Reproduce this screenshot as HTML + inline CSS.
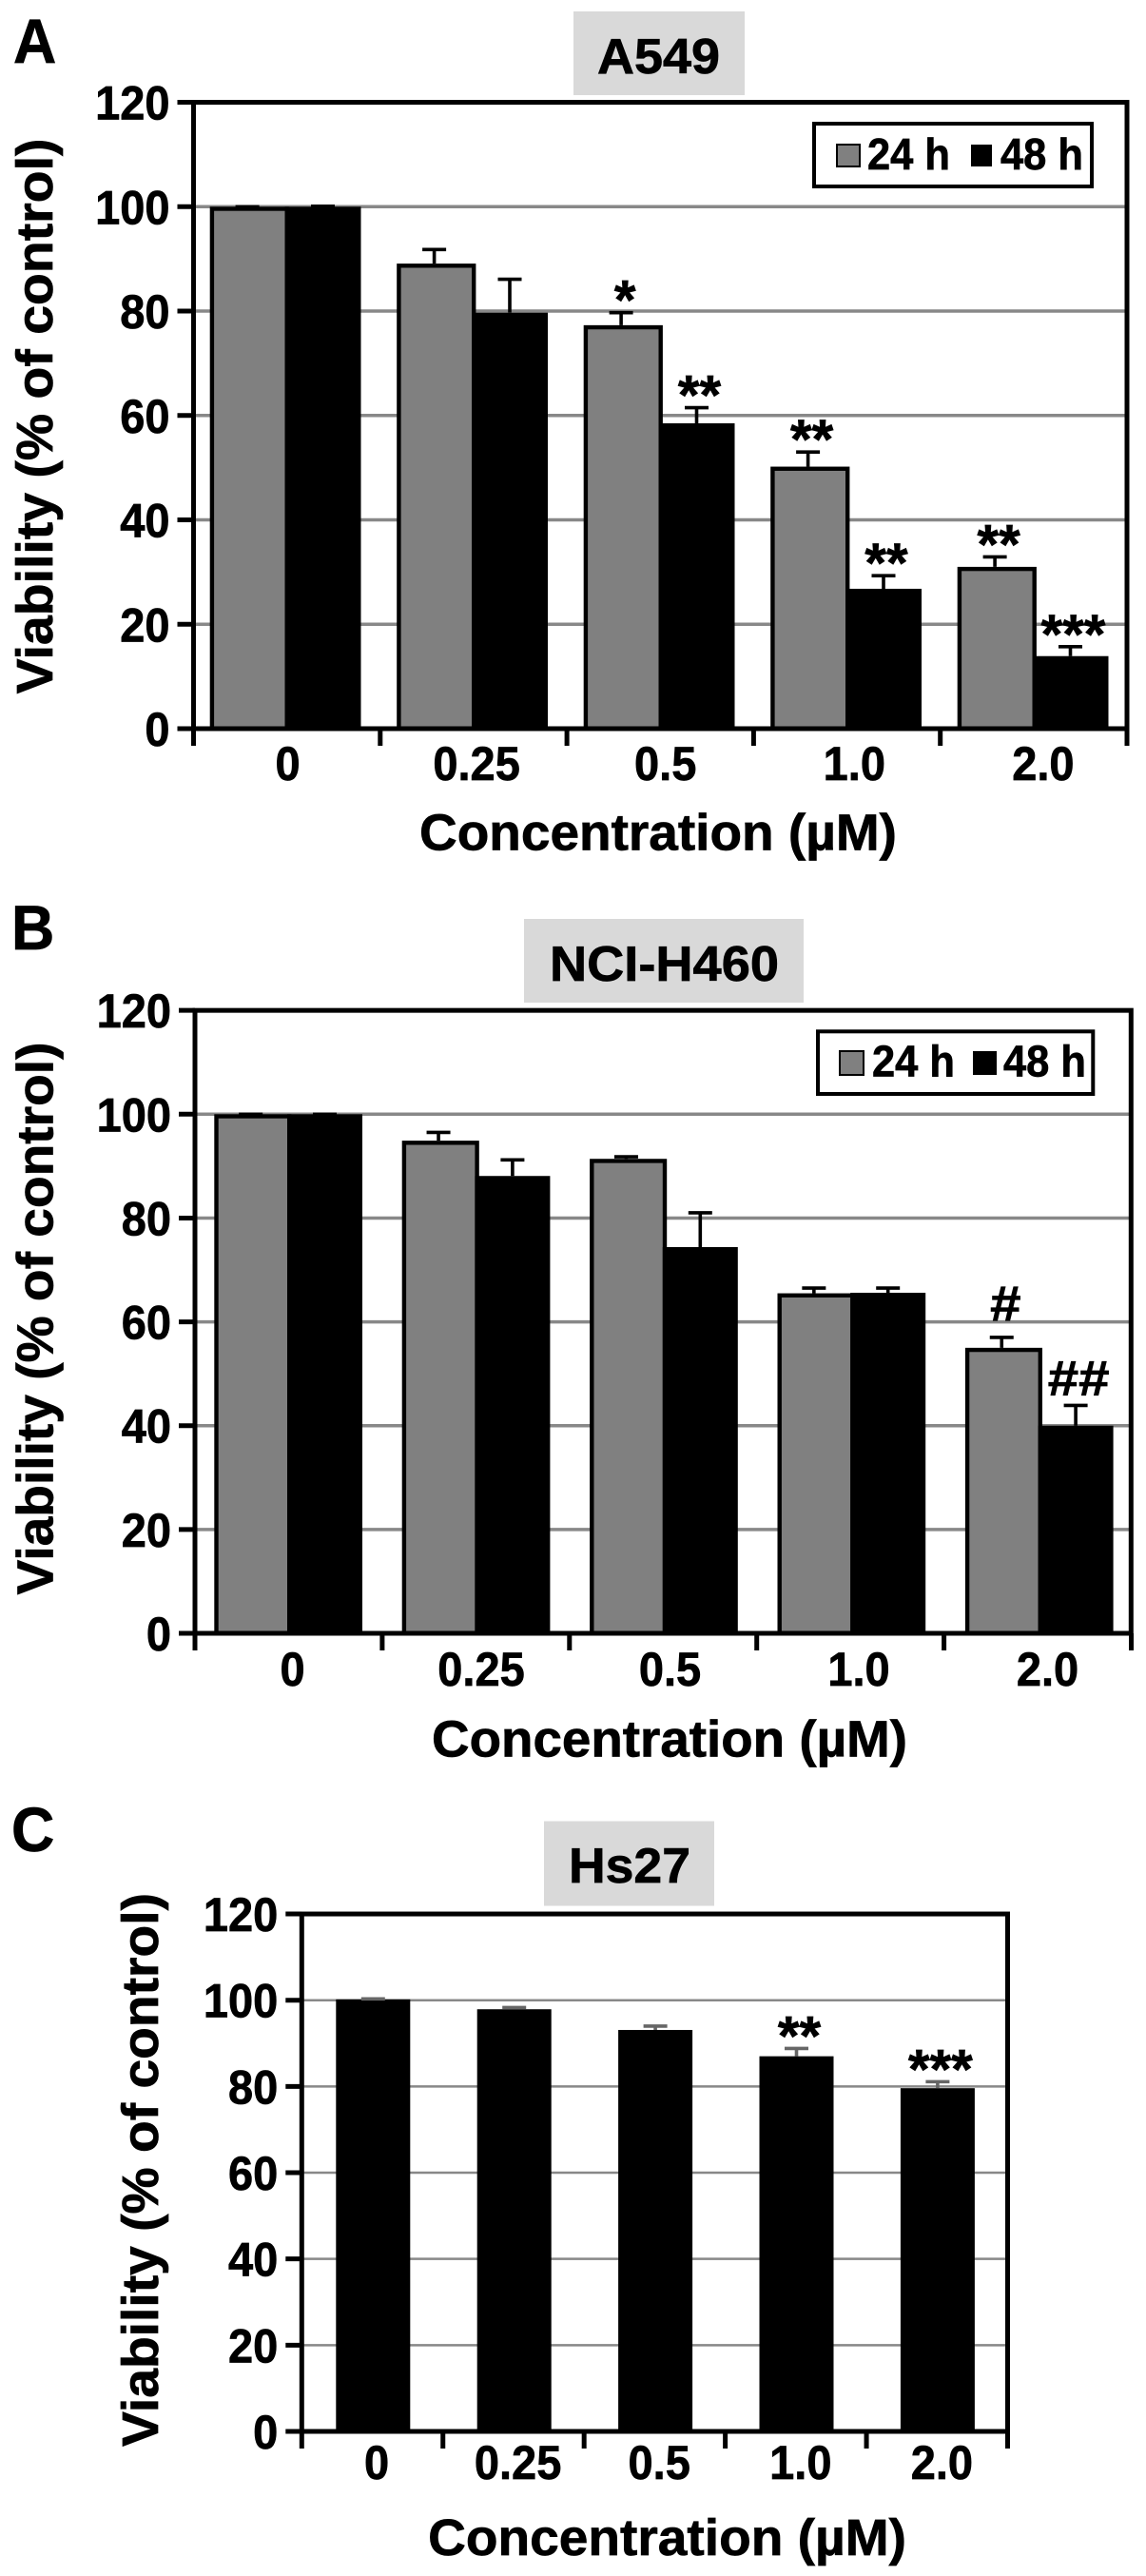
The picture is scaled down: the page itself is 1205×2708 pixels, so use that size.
<!DOCTYPE html>
<html lang="en">
<head>
<meta charset="utf-8">
<title>Cell viability charts</title>
<style>
html,body{margin:0;padding:0;background:#fff;}
svg{display:block;}
text{font-family:"Liberation Sans",Arial,sans-serif;font-weight:bold;fill:#000;stroke:#000;stroke-width:0.7px;}
</style>
</head>
<body>
<svg id="figure" xmlns="http://www.w3.org/2000/svg" width="1205" height="2708" viewBox="0 0 1205 2708"></svg>
<script>
const categories = ['0', '0.25', '0.5', '1.0', '2.0'];
const yTickLabels = [0, 20, 40, 60, 80, 100, 120];
const a549Values24 = [100, 89.1, 77.3, 50.2, 31];
const a549Values48 = [100, 79.7, 58.5, 26.8, 13.9];
const a549Errors24 = [0, 2.7, 2.4, 2.8, 1.9];
const a549Errors48 = [0.1, 6.4, 3, 2.5, 1.8];
const a549Marks24 = ['', '', '*', '**', '**'];
const a549Marks48 = ['', '', '**', '**', '***'];
const h460Values24 = [100, 94.9, 91.4, 65.5, 55];
const h460Values48 = [100, 88.1, 74.4, 65.6, 40];
const h460Errors24 = [0, 1.6, 0.4, 1, 2];
const h460Errors48 = [0, 3.1, 6.6, 0.9, 3.9];
const h460Marks24 = ['', '', '', '', '#'];
const h460Marks48 = ['', '', '', '', '##'];
const hs27Values = [100.2, 97.9, 93.1, 87, 79.6];
const hs27Errors = [0.1, 0.4, 0.9, 1.8, 1.5];
const hs27Marks = ['', '', '', '**', '***'];

const NS = 'http://www.w3.org/2000/svg';
const root = document.getElementById('figure');

function mk(parent, tag, attrs) {
  const el = document.createElementNS(NS, tag);
  for (const k in attrs) el.setAttribute(k, attrs[k]);
  parent.appendChild(el);
  return el;
}
function label(parent, str, x, y, size, anchor, sx, target, rotate) {
  const el = mk(parent, 'text', {'font-size': size, 'text-anchor': anchor});
  el.textContent = str;
  let scale = sx;
  if (target) scale = target / el.getComputedTextLength();
  el.setAttribute('transform', 'translate(' + x + ' ' + y + ')' + (rotate ? ' rotate(-90)' : '') + ' scale(' + scale + ' 1)');
  return el;
}

function drawChart(c) {
  const g = mk(root, 'g', {});
  
  
  const yScale = v => c.y0 - (c.y0 - c.y100) * v / 100;
  const xCat = i => c.left + c.step * i;

  const letter = label(g, c.letter, c.letterX, c.letterY, 66, 'start', 0.95);
  
  

  const tb = mk(g, 'rect', {x: c.titleBox[0], y: c.titleBox[1], width: c.titleBox[2], height: c.titleBox[3], fill: '#d9d9d9'});
  
  
  const tt = label(g, c.title, c.titleX, c.titleY, 52, 'middle', 1, c.titleW);
  
  

  // gridlines
  yTickLabels.forEach(v => {
    if (v === 0 || v === 120) return;
    const gl = mk(g, 'line', {x1: c.left, x2: c.right, y1: yScale(v), y2: yScale(v), stroke: '#888', 'stroke-width': c.gridW});
    
    
  });

  // bars
  categories.forEach((cat, i) => {
    const base = c.barStart + c.barStep * i;
    let x48 = base;
    if (c.values24) {
      const v = c.values24[i];
      x48 = base + c.w24;
      const bar = mk(g, 'rect', {x: base + 2.2, y: yScale(v) + 2.2, width: c.w24, height: c.y0 - yScale(v) - 2.2, fill: '#808080', stroke: '#000', 'stroke-width': 4.4});
      
      
      const cx = base + c.w24 / 2;
      const top = yScale(v + c.errors24[i]);
      const e = mk(g, 'path', {d: 'M' + (cx - 12.5) + ' ' + top + 'H' + (cx + 12.5) + 'M' + cx + ' ' + top + 'V' + yScale(v), stroke: '#000', 'stroke-width': 3.6, fill: 'none'});
      
      
      if (c.marks24[i]) {
        const m = label(g, c.marks24[i], cx + 4, top + c.gap24, c.markSize, 'middle', c.markSx);
        
        
      }
    }
    const v2 = c.values48[i];
    const bar2 = mk(g, 'rect', {x: x48, y: yScale(v2), width: c.w48, height: c.y0 - yScale(v2), fill: '#000'});
    
    
    const cx2 = x48 + c.w48 / 2;
    const top2 = yScale(v2 + c.errors48[i]);
    const e2 = mk(g, 'path', {d: 'M' + (cx2 - 12.5) + ' ' + top2 + 'H' + (cx2 + 12.5) + 'M' + cx2 + ' ' + top2 + 'V' + yScale(v2), stroke: c.errColor, 'stroke-width': 3.6, fill: 'none'});
    
    
    if (c.marks48[i]) {
      const m2 = label(g, c.marks48[i], cx2 + 3, top2 + c.gap48, c.markSize, 'middle', c.markSx);
      
      
    }
  });

  // frame
  const frame = mk(g, 'rect', {x: c.left, y: yScale(120), width: c.right - c.left, height: c.y0 - yScale(120), fill: 'none', stroke: '#000', 'stroke-width': 5});
  
  

  // y ticks
  yTickLabels.forEach(v => {
    const t = mk(g, 'line', {x1: c.left - 17, x2: c.left, y1: yScale(v), y2: yScale(v), stroke: '#000', 'stroke-width': 5});
    
    
    const l = label(g, String(v), c.left - 25, yScale(v) + 18, 50, 'end', 0.94);
    
    
  });

  // x ticks
  for (let i = 0; i <= categories.length; i++) {
    const t = mk(g, 'line', {x1: xCat(i), x2: xCat(i), y1: c.y0, y2: c.y0 + 18, stroke: '#000', 'stroke-width': 5});
    
    
  }
  categories.forEach((cat, i) => {
    const l = label(g, cat, c.labelStart + c.labelStep * i, c.y0 + c.xLabelDy, 50, 'middle', 0.94);
    
    
  });

  const xt = label(g, 'Concentration (µM)', c.xTitleX, c.xTitleY, 54, 'middle', 1, c.xTitleW);
  
  
  const yt = label(g, 'Viability (% of control)', c.yTitleX, c.yTitleY, 54, 'middle', 1, c.yTitleW, true);
  
  

  // legend
  if (c.legend) {
    const L = c.legend;
    const lg = mk(g, 'g', {});
    
    
    mk(lg, 'rect', {x: L.x, y: L.y, width: L.w, height: L.h, fill: '#fff', stroke: '#000', 'stroke-width': 4});
    const s1 = mk(lg, 'rect', {x: L.s1, y: L.sy, width: L.s1w, height: L.sh, fill: '#808080', stroke: '#000', 'stroke-width': 2});
    
    
    const s2 = mk(lg, 'rect', {x: L.s2, y: L.sy, width: L.s2w, height: L.sh, fill: '#000'});
    
    
    const t1 = label(lg, '24 h', L.t1, L.ty, 46, 'start', 1, L.tw);
    
    
    const t2 = label(lg, '48 h', L.t2, L.ty, 46, 'start', 1, L.tw);
    
    
  }
}

drawChart({
  name: 'a549', letter: 'A', letterX: 14, letterY: 66,
  title: 'A549', titleBox: [603, 12, 180, 88], titleX: 692.5, titleY: 77, titleW: 129,
  left: 203.5, right: 1185, step: 196.3, y0: 766, y100: 217.3, gridW: 3.5,
  barStart: 220.7, barStep: 196.5, w24: 78.8, w48: 80,
  values24: a549Values24, errors24: a549Errors24, marks24: a549Marks24,
  values48: a549Values48, errors48: a549Errors48, marks48: a549Marks48,
  gap24: 7, gap48: 7, markSize: 58, markSx: 1, errColor: '#000',
  labelStart: 302.5, labelStep: 198.6, xLabelDy: 54,
  xTitleX: 692, xTitleY: 893.5, xTitleW: 502,
  yTitleX: 55, yTitleY: 437.5, yTitleW: 584,
  legend: {x: 856, y: 130, w: 292, h: 66, s1: 880, s1w: 24, s2: 1021, s2w: 22, sy: 152, sh: 23, t1: 912, t2: 1052, ty: 178, tw: 87}
});
drawChart({
  name: 'nci-h460', letter: 'B', letterX: 12, letterY: 998,
  title: 'NCI-H460', titleBox: [551, 966, 294, 88], titleX: 698.5, titleY: 1031, titleW: 241,
  left: 205, right: 1189.3, step: 196.9, y0: 1717, y100: 1171.3, gridW: 3.5,
  barStart: 225.3, barStep: 197.4, w24: 76.7, w48: 79,
  values24: h460Values24, errors24: h460Errors24, marks24: h460Marks24,
  values48: h460Values48, errors48: h460Errors48, marks48: h460Marks48,
  gap24: -18, gap48: -11, markSize: 52, markSx: 1.12, errColor: '#000',
  labelStart: 307.5, labelStep: 198.5, xLabelDy: 55,
  xTitleX: 704, xTitleY: 1846.5, xTitleW: 500,
  yTitleX: 55.5, yTitleY: 1386, yTitleW: 581,
  legend: {x: 860, y: 1084.3, w: 289.3, h: 65.7, s1: 883, s1w: 25, s2: 1023, s2w: 25, sy: 1105, sh: 25, t1: 917, t2: 1055, ty: 1131.7, tw: 87}
});
drawChart({
  name: 'hs27', letter: 'C', letterX: 12, letterY: 1946,
  title: 'Hs27', titleBox: [572, 1914.5, 179, 89], titleX: 662, titleY: 1979, titleW: 128,
  left: 317.3, right: 1059.5, step: 148.44, y0: 2556, y100: 2102.7, gridW: 2.5,
  barStart: 353.3, barStep: 148.4, w48: 78,
  values24: null,
  values48: hs27Values, errors48: hs27Errors, marks48: hs27Marks,
  gap48: 7, markSize: 58, markSx: 1, errColor: '#666',
  labelStart: 396, labelStep: 148.6, xLabelDy: 50,
  xTitleX: 701.5, xTitleY: 2686, xTitleW: 503,
  yTitleX: 165.8, yTitleY: 2281, yTitleW: 582,
  legend: null
});
</script>
</body>
</html>
